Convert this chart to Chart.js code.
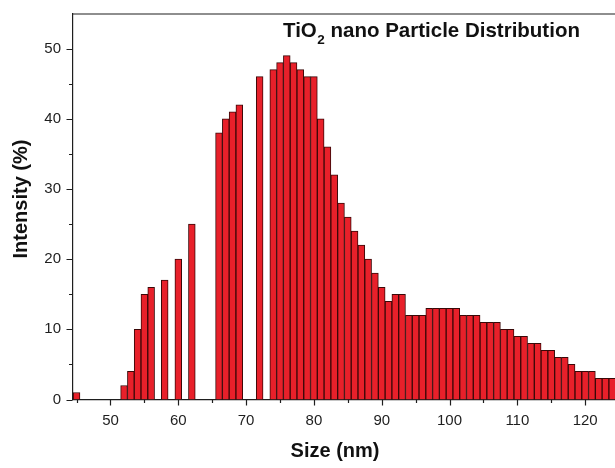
<!DOCTYPE html>
<html>
<head>
<meta charset="utf-8">
<script src="https://cdn.jsdelivr.net/npm/chart.js@4.4.1/dist/chart.umd.min.js"></script>
<style>
  html, body { margin: 0; padding: 0; background: #fff; }
  #wrap { width: 615px; height: 468px; }
</style>
</head>
<body>
<div id="wrap"><canvas id="psd"></canvas></div>
<script>
// --- data (size in nm, intensity in %) ---
const sizes = [45, 52, 53, 54, 55, 56, 58, 60, 62, 66, 67, 68, 69, 72,
  74, 75, 76, 77, 78, 79, 80, 81, 82, 83, 84, 85, 86, 87, 88, 89, 90,
  91, 92, 93, 94, 95, 96, 97, 98, 99, 100, 101, 102, 103, 104, 105, 106,
  107, 108, 109, 110, 111, 112, 113, 114, 115, 116, 117, 118, 119, 120,
  121, 122, 123, 124];
const intensities = [1, 2, 4, 10, 15, 16, 17, 20, 25, 38, 40, 41, 42, 46,
  47, 48, 49, 48, 47, 46, 46, 40, 36, 32, 28, 26, 24, 22, 20, 18, 16,
  14, 15, 15, 12, 12, 12, 13, 13, 13, 13, 13, 12, 12, 12, 11, 11,
  11, 10, 10, 9, 9, 8, 8, 7, 7, 6, 6, 5, 4, 4,
  4, 3, 3, 3];

// tick values
const xMajorTicks = [50, 60, 70, 80, 90, 100, 110, 120];
const xMinorTicks = [45, 55, 65, 75, 85, 95, 105, 115];
const yMajorTicks = [0, 10, 20, 30, 40, 50];
const yMinorTicks = [5, 15, 25, 35, 45];

const FONT = "'Liberation Sans', Arial, Helvetica, sans-serif";
const INK = '#1e1e1e';

// tick marks (major longer than minor), axis titles, frame top and inset title
const decorPlugin = {
  id: 'decor',
  afterDraw(chart) {
    const ctx = chart.ctx;
    const area = chart.chartArea;
    const xs = chart.scales.x, ys = chart.scales.y;
    ctx.save();
    ctx.strokeStyle = INK;
    ctx.lineWidth = 1.2;
    ctx.beginPath();
    xMajorTicks.concat(xMinorTicks).forEach(v => {
      const len = xMajorTicks.includes(v) ? 6 : 3.5;
      const px = Math.round(xs.getPixelForValue(v)) + 0.5;
      ctx.moveTo(px, area.bottom);
      ctx.lineTo(px, area.bottom + len);
    });
    yMajorTicks.concat(yMinorTicks).forEach(v => {
      const len = yMajorTicks.includes(v) ? 6 : 3.5;
      const py = Math.round(ys.getPixelForValue(v)) + 0.5;
      ctx.moveTo(area.left, py);
      ctx.lineTo(area.left - len, py);
    });
    // top frame line
    ctx.moveTo(area.left, area.top + 0.5);
    ctx.lineTo(area.right, area.top + 0.5);
    ctx.stroke();

    ctx.fillStyle = '#111';
    // x title
    ctx.font = 'bold 20px ' + FONT;
    ctx.textAlign = 'center';
    ctx.textBaseline = 'alphabetic';
    ctx.fillText('Size (nm)', 335, 456.5);
    // y title
    ctx.save();
    ctx.translate(27, 199);
    ctx.rotate(-Math.PI / 2);
    ctx.fillText('Intensity (%)', 0, 0);
    ctx.restore();

    // inset title with subscript
    let tx = 283;
    const ty = 36.5;
    ctx.textAlign = 'left';
    ctx.font = 'bold 20.5px ' + FONT;
    ctx.fillText('TiO', tx, ty);
    tx += ctx.measureText('TiO').width;
    ctx.font = 'bold 13.5px ' + FONT;
    ctx.fillText('2', tx + 0.5, ty + 7.5);
    tx += ctx.measureText('2').width + 0.5;
    ctx.font = 'bold 20.5px ' + FONT;
    ctx.fillText(' nano Particle Distribution', tx, ty);
    ctx.restore();
  }
};

new Chart(document.getElementById('psd'), {
  type: 'bar',
  data: {
    datasets: [{
      label: 'Intensity (%)',
      data: sizes.map((s, i) => ({ x: s, y: intensities[i] })),
      backgroundColor: '#e8202a',
      borderColor: '#3a0808',
      borderWidth: 1,
      borderSkipped: 'bottom',
      barPercentage: 1.0,
      categoryPercentage: 1.0
    }]
  },
  options: {
    responsive: true,
    maintainAspectRatio: false,
    animation: false,
    layout: { padding: { top: 13.5, right: 0, bottom: 0, left: 0 } },
    plugins: { legend: { display: false }, tooltip: { enabled: false }, title: { display: false } },
    scales: {
      x: {
        type: 'linear',
        offset: false,
        min: 44.4,
        max: 124.4,
        afterBuildTicks: s => { s.ticks = xMajorTicks.map(v => ({ value: v })); },
        afterFit: s => { s.height = 68.5; s.paddingLeft = 0; s.paddingRight = 0; },
        grid: { display: false, drawTicks: false, offset: false },
        border: { display: true, color: INK, width: 1.2 },
        ticks: { color: INK, padding: 12, maxRotation: 0, font: { family: FONT, size: 15 } }
      },
      y: {
        min: 0,
        max: 55,
        afterBuildTicks: s => { s.ticks = yMajorTicks.map(v => ({ value: v })); },
        afterFit: s => { s.width = 72.5; s.paddingTop = 0; s.paddingBottom = 0; },
        grid: { display: false, drawTicks: false },
        border: { display: true, color: INK, width: 1.2 },
        ticks: { color: INK, padding: 11.5, font: { family: FONT, size: 15 } }
      }
    }
  },
  plugins: [decorPlugin]
});
</script>
</body>
</html>
